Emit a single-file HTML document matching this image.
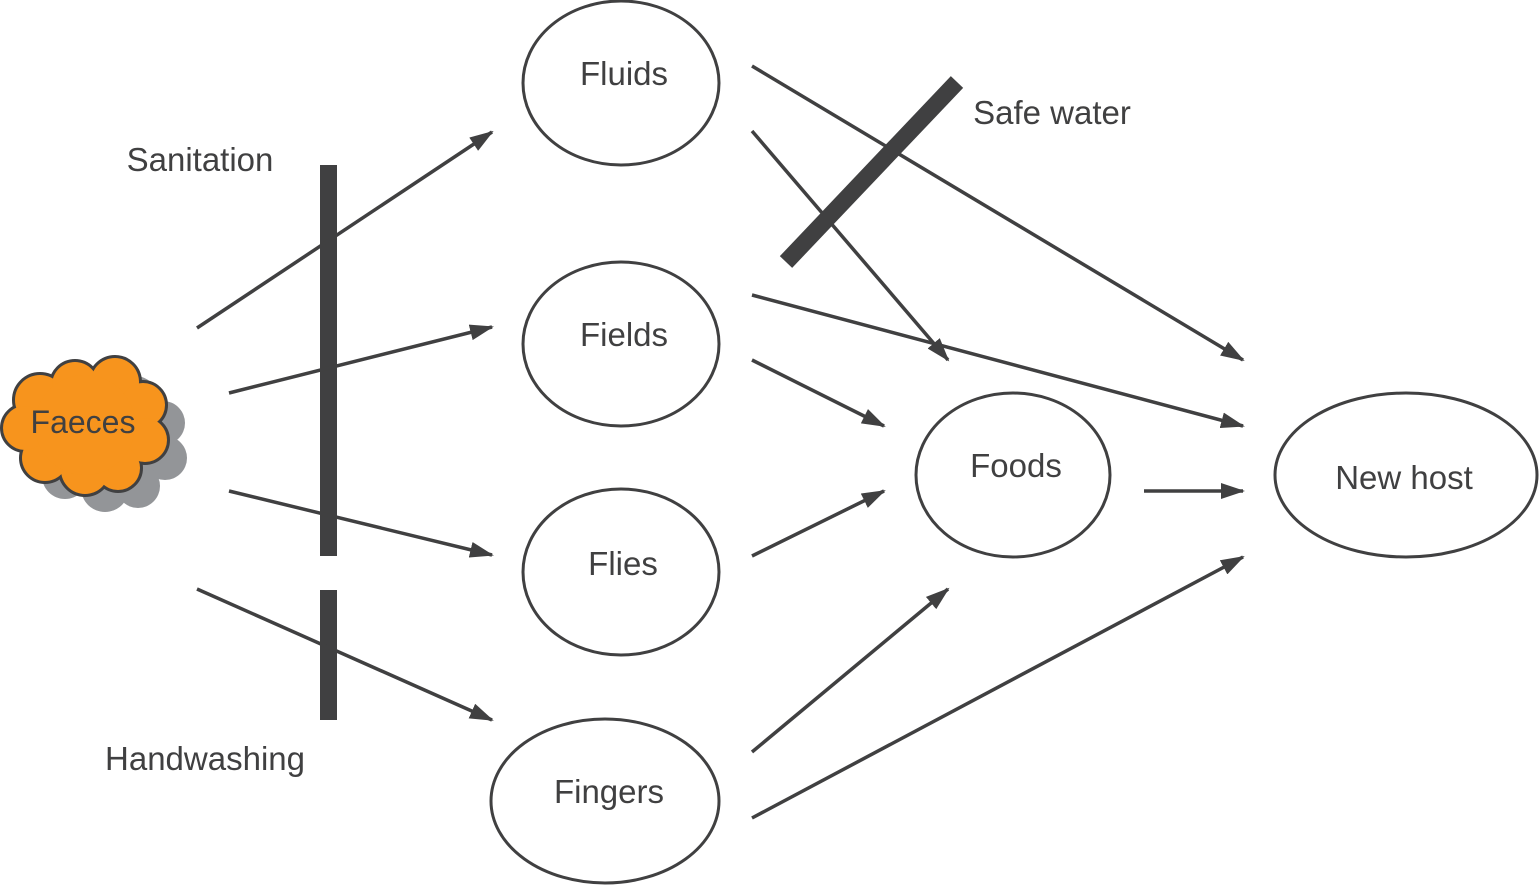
<!DOCTYPE html>
<html><head><style>html,body{margin:0;padding:0;background:#fff}svg{display:block}</style></head>
<body>
<svg width="1539" height="885" viewBox="0 0 1539 885" xmlns="http://www.w3.org/2000/svg" font-family="Liberation Sans, sans-serif">
<defs>
<marker id="a" markerWidth="24" markerHeight="16" refX="22" refY="8" orient="auto" markerUnits="userSpaceOnUse">
<path d="M0,0 L24,8 L0,16 z" fill="#404041"/></marker>
<g id="cl">
<circle cx="40" cy="400" r="25"/><circle cx="75" cy="385" r="23"/><circle cx="115" cy="382" r="24"/>
<circle cx="143" cy="405" r="22"/><circle cx="145" cy="440" r="22"/><circle cx="118" cy="468" r="22"/>
<circle cx="85" cy="470" r="24"/><circle cx="45" cy="458" r="23"/><circle cx="25" cy="428" r="22"/>
<circle cx="85" cy="425" r="50"/>
</g>
</defs>
<use href="#cl" fill="#939598" transform="translate(20,18)"/>
<use href="#cl" fill="#f7941d" stroke="#404041" stroke-width="6"/>
<use href="#cl" fill="#f7941d"/>
<text x="83" y="433" font-size="32" fill="#404041" text-anchor="middle">Faeces</text>

<rect x="320" y="165" width="17" height="391" fill="#404041"/>
<rect x="320" y="590" width="17" height="130" fill="#404041"/>

<g stroke="#404041" stroke-width="3.5" fill="none" marker-end="url(#a)">
<line x1="197" y1="328" x2="492" y2="132"/>
<line x1="229" y1="393" x2="492" y2="327"/>
<line x1="229" y1="491" x2="492" y2="555"/>
<line x1="197" y1="589" x2="492" y2="720"/>
<line x1="752" y1="66" x2="1243" y2="360"/>
<line x1="752" y1="131" x2="948" y2="360"/>
<line x1="752" y1="295" x2="1243" y2="426"/>
<line x1="752" y1="360" x2="884" y2="426"/>
<line x1="752" y1="556" x2="884" y2="491"/>
<line x1="752" y1="752" x2="948" y2="589"/>
<line x1="752" y1="818" x2="1243" y2="557"/>
<line x1="1144" y1="491" x2="1243" y2="491"/>
</g>
<line x1="957" y1="82" x2="786" y2="262" stroke="#404041" stroke-width="17"/>

<g fill="#fff" stroke="#404041" stroke-width="3">
<ellipse cx="621" cy="83" rx="98" ry="82"/>
<ellipse cx="621" cy="344" rx="98" ry="82"/>
<ellipse cx="621" cy="572" rx="98" ry="83"/>
<ellipse cx="605" cy="801" rx="114" ry="82"/>
<ellipse cx="1013" cy="475" rx="97" ry="82"/>
<ellipse cx="1406" cy="475" rx="131" ry="82"/>
</g>
<g font-size="33" fill="#404041" text-anchor="middle">
<text x="624" y="85">Fluids</text>
<text x="624" y="346">Fields</text>
<text x="623" y="575">Flies</text>
<text x="609" y="803">Fingers</text>
<text x="1016" y="477">Foods</text>
<text x="1404" y="489">New host</text>
<text x="200" y="171">Sanitation</text>
<text x="205" y="770">Handwashing</text>
<text x="1052" y="124">Safe water</text>
</g>
</svg>
</body></html>
